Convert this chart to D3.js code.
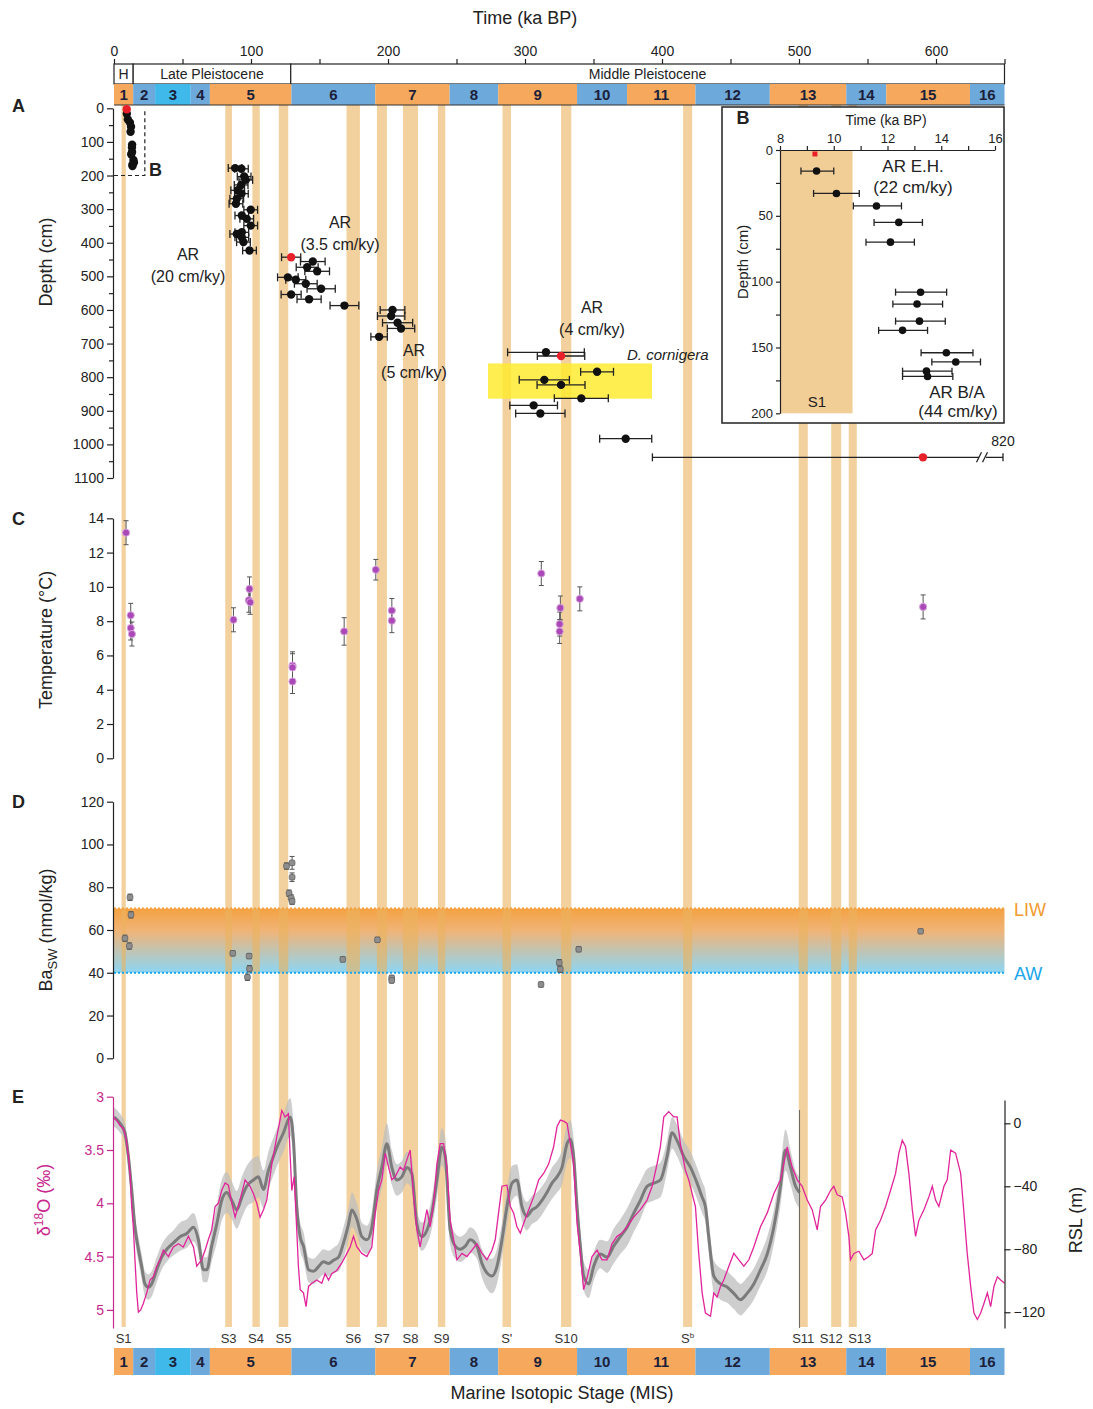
<!DOCTYPE html>
<html>
<head>
<meta charset="utf-8">
<script src="https://cdn.jsdelivr.net/npm/d3@7"></script>
<style>
  body { margin: 0; background: #fff; }
</style>
</head>
<body>
<div id="chart"></div>
<script>
// ---- data ----
// marine isotope stages [stage, start ka, end ka]
const misStages = [[1,0,14],[2,14,30],[3,30,56],[4,56,70],[5,70,129.5],[6,129.5,190.7],[7,190.7,245],
  [8,245,280.5],[9,280.5,338],[10,338,374.5],[11,374.5,424.4],[12,424.4,478.7],[13,478.7,534.5],
  [14,534.5,563.7],[15,563.7,624.8],[16,624.8,650]];
const epochs = [["H",0,14],["Late Pleistocene",14,129],["Middle Pleistocene",129,650]];
// sapropels [label, start ka, end ka]
const sapropels = [["S1",5.5,8.6],["S3",81.2,86.1],["S4",101,106.4],["S5",120.3,127.2],["S6",169.7,179.5],
  ["S7",191.9,199.2],["S8",210.9,221.9],["S9",236.4,241.8],["S'",283.6,289.8],["S10",326.3,333.8],
  ["Sb",415.4,422],["S11",499.8,506.4],["S12",523.5,530.8],["S13",536.3,542.2]];

// panel A / B : ages [ka, depth cm, err lo, err hi]
const redTop = [9.3, 3];
const holoceneAges = [[9.36,16,8.78,10.0],[10.1,33,9.25,10.95],[11.59,42.5,10.73,12.52],[12.42,55,11.5,13.3],
  [12.11,70,11.2,13.0],[13.23,108,12.3,14.2],[13.1,117,12.2,14.05],[13.19,130,12.3,14.15],[12.56,137,11.67,13.49],
  [14.19,154,13.25,15.18],[14.54,161,13.65,15.46],[13.45,168,12.56,14.4],[13.49,172,12.56,14.43]];
// [ka, depth, ± ka]
const mis5Ages = [[88.4,178,5],[93,180,5],[95,203,5],[96.2,213,5],[92.8,228,5],[90.3,244,5],[93,254,5],
  [89.6,269,5],[89,284,5],[99.8,302,5],[93.3,319,5],[96.9,329,5],[99.8,349,5],[93.3,369,5],[89.6,374,5],
  [93.3,384,5],[94.5,398,5],[98.9,423,5]];
const mis6Ages = [[145.1,456,9],[141,473,8],[148.3,485,9],[126.9,503,7.5],[132.7,510,7.3],[140,522,8.3],
  [151.2,537,10.3],[129.3,554,7.3],[142.4,568,8.8],[168.2,587,10.5]];
const mis6Red = [129.3,443,7];
const mis7Ages = [[203.3,600,9],[202.3,618,10],[207,638,11],[209.5,655,10],[193.5,680,6]];
const mis9Ages = [[315.3,726,28],[352.6,784,12],[314.1,808,18.3],[326.3,823,17.5],[341.1,863,19.7],
  [306.3,884,17.4],[311.2,908,18],[373.5,983,19]];
const mis9Red = [326.3,737,17.3];
const oldRed = [590.5,1038.5,393,820];
const corniger = [273,392.7,759,864];

// panel C : temperature [ka, °C, ±]
const temperature = [[8.8,13.16,0.7],[12.2,8.34,0.7],[12.2,7.6,0.7],[13.1,7.25,0.7],[87.2,8.08,0.7],
  [98.9,9.88,0.7],[98.4,9.22,0.7],[99.4,9.1,0.7],[130.3,5.41,0.8],[130.3,5.3,0.8],[130.3,4.48,0.7],
  [168,7.4,0.8],[191.1,11.0,0.6],[202.8,8.62,0.7],[202.8,8.03,0.7],[311.9,10.78,0.7],[325.8,8.77,0.7],
  [325.3,7.83,0.7],[325.3,7.4,0.7],[340,9.3,0.7],[590.6,8.83,0.7]];

// panel D : Ba_SW [ka, nmol/kg, ±]
const barium = [[8.0,56.1,1.5],[11.2,52.5,1.5],[11.7,75.3,1.5],[12.4,67.1,1.5],[86.7,49.1,1.2],[98.6,47.8,1.2],
  [98.9,41.9,1.5],[97.4,37.9,1.5],[125.9,89.9,1.5],[130,91.4,3],[130,84.7,2],[127.8,77.2,1.5],[129.3,75,1.5],
  [130,73.4,1.5],[167,46.3,1.2],[192.3,55.4,1.2],[202.7,37.6,1.2],[202.7,36.4,1.2],[311.7,34.5,1.2],
  [325,44.7,1.5],[325.8,41.6,1.5],[339.2,51,1.2],[588.8,59.4,1]];
const liw = 70, aw = 40;

// panel E : benthic d18O [ka, ‰]
const d18o = [[0,3.20],[1.9,3.22],[4.4,3.27],[6.8,3.30],[8.8,3.39],[10.5,3.56],[11.7,3.72],[12.9,4.03],
  [14.1,4.22],[15.3,4.53],[16.6,4.84],[17.8,5.02],[19.5,5.00],[21.4,4.94],[23.9,4.84],[26.3,4.72],[28.7,4.69],
  [31.2,4.59],[33.6,4.53],[36.0,4.44],[39.7,4.50],[43.3,4.41],[47.0,4.38],[50.6,4.41],[54.3,4.31],[58.0,4.41],
  [60.4,4.59],[64.0,4.53],[66.5,4.44],[68.9,4.34],[71.3,4.25],[73.8,4.03],[76.2,4.00],[78.6,3.88],[81.1,3.81],
  [83.5,3.83],[86.0,4.00],[88.4,4.13],[92.0,3.97],[95.7,3.78],[99.3,3.84],[101.8,3.91],[104.2,4.00],[106.6,4.13],
  [109.1,4.06],[111.5,3.97],[115.2,3.63],[118.8,3.38],[122.5,3.13],[124.9,3.19],[127.3,3.16],[128.6,3.56],
  [129.8,3.88],[131.5,3.75],[133.4,4.25],[134.6,4.59],[135.9,4.81],[138.3,4.84],[140.2,4.97],[142.0,4.78],
  [144.4,4.75],[148.0,4.72],[151.7,4.75],[154.1,4.66],[156.6,4.72],[159.0,4.66],[162.6,4.63],[166.3,4.56],
  [170.0,4.47],[172.4,4.41],[174.8,4.31],[177.3,4.41],[180.9,4.47],[184.6,4.50],[188.2,4.41],[190.7,4.09],
  [193.1,3.88],[195.5,3.78],[198.0,3.53],[200.4,3.66],[202.8,3.78],[205.3,3.75],[208.9,3.66],[211.3,3.69],
  [213.8,3.59],[216.2,3.50],[218.7,3.94],[221.1,4.25],[223.5,4.41],[226.0,4.22],[228.4,4.06],[230.8,4.22],
  [233.3,4.00],[235.7,3.63],[238.1,3.44],[240.6,3.44],[243.0,3.66],[245.4,4.16],[247.9,4.34],[250.3,4.53],
  [254.0,4.47],[257.6,4.50],[261.3,4.44],[264.9,4.38],[268.6,4.47],[272.2,4.53],[275.9,4.44],[278.3,4.34],
  [280.7,4.09],[283.2,3.84],[286.8,3.83],[289.3,4.03],[291.7,4.09],[294.1,4.22],[296.6,4.28],[299.0,4.19],
  [302.7,4.06],[306.3,3.94],[310.0,3.78],[313.6,3.72],[317.3,3.63],[320.9,3.47],[323.4,3.28],[325.8,3.22],
  [328.2,3.23],[330.7,3.25],[333.1,3.44],[335.5,3.63],[338.0,4.19],[340.4,4.47],[342.8,4.81],[345.3,4.70],
  [348.9,4.50],[352.6,4.44],[356.2,4.53],[359.9,4.53],[363.5,4.38],[367.2,4.31],[370.8,4.28],[374.5,4.22],
  [379.4,4.13],[384.2,4.06],[389.1,3.97],[392.8,3.84],[396.4,3.63],[398.8,3.47],[401.3,3.19],[404.9,3.14],
  [408.6,3.19],[411.0,3.19],[413.4,3.44],[417.1,3.69],[419.5,3.78],[422.0,3.91],[424.4,4.03],[426.8,4.47],
  [429.3,4.84],[431.7,5.03],[435.4,5.06],[437.8,4.84],[440.2,4.88],[442.7,4.78],[445.1,4.72],[448.8,4.59],
  [452.4,4.47],[456.1,4.53],[459.7,4.59],[463.4,4.53],[467.0,4.41],[471.9,4.22],[476.8,4.09],[481.6,3.91],
  [486.5,3.78],[491.4,3.47],[495.0,3.66],[498.7,3.78],[502.3,3.84],[506.0,3.97],[509.6,4.06],[513.3,4.25],
  [515.7,4.03],[519.4,3.97],[523.0,3.88],[525.4,3.84],[527.9,3.92],[531.5,3.94],[534.0,4.09],[536.4,4.31],
  [537.6,4.53],[540.1,4.47],[543.7,4.45],[547.4,4.53],[551.0,4.50],[553.5,4.47],[555.9,4.25],[559.5,4.16],
  [563.2,4.03],[566.8,3.88],[570.5,3.72],[572.9,3.53],[575.4,3.41],[577.8,3.47],[580.2,3.72],[582.7,4.06],
  [585.1,4.31],[587.5,4.16],[591.2,4.06],[594.8,3.94],[597.3,3.84],[599.7,3.97],[602.1,4.03],[605.8,3.84],
  [608.2,3.78],[610.7,3.50],[614.3,3.53],[618.0,3.72],[620.4,4.09],[622.8,4.47],[625.3,4.78],[627.7,5.03],
  [630.2,5.09],[632.6,5.03],[635.0,4.94],[637.5,4.84],[639.9,4.97],[642.3,4.78],[644.8,4.69],[647.2,4.72],
  [650.0,4.75]];

// panel E : relative sea level [ka, m, ± m]
const rsl = [[0,4,6],[4.4,0,6],[8.0,-6,6],[10.5,-21,7],[12.9,-42,8],[15.3,-66,8],[17.8,-80,8],[20.2,-91,8],
  [22.6,-102,8],[25.1,-104,8],[27.5,-102,8],[31.2,-93,8],[34.8,-85,8],[38.5,-80,8],[43.3,-76,8],[48.2,-72,9],
  [53.1,-70,9],[58.0,-66,9],[61.6,-74,8],[65.3,-93,8],[67.7,-93,8],[71.3,-78,10],[75.0,-64,12],[78.6,-49,13],
  [82.3,-44,13],[86.0,-49,12],[89.6,-55,12],[93.3,-47,13],[96.9,-40,13],[101.8,-36,14],[105.4,-34,13],
  [109.1,-42,12],[112.7,-30,12],[116.4,-21,12],[120.0,-13,12],[123.7,-6,12],[128.6,4,12],[131.0,-11,11],
  [133.4,-53,10],[135.9,-72,9],[138.3,-78,9],[142.0,-93,8],[145.6,-94,8],[149.3,-91,8],[152.9,-88,8],
  [156.6,-89,8],[160.2,-87,8],[163.9,-85,9],[167.5,-76,10],[171.2,-64,10],[173.6,-55,11],[177.3,-61,10],
  [180.9,-72,9],[184.6,-74,9],[188.2,-66,10],[191.9,-42,12],[195.5,-28,13],[199.2,-13,13],[202.8,-28,11],
  [206.5,-36,10],[210.1,-34,10],[213.8,-28,10],[217.4,-32,10],[221.1,-64,9],[224.7,-72,9],[228.4,-68,9],
  [232.0,-57,10],[235.7,-36,11],[239.3,-15,12],[241.8,-21,11],[245.4,-68,9],[249.1,-78,8],[252.7,-80,8],
  [256.4,-78,8],[260.0,-74,8],[264.9,-78,8],[268.6,-89,9],[272.2,-95,10],[275.9,-97,11],[279.5,-91,11],
  [283.2,-74,11],[286.8,-53,12],[290.5,-38,11],[294.1,-36,10],[297.8,-53,9],[301.4,-59,9],[305.1,-55,9],
  [308.7,-53,9],[312.4,-49,9],[316.0,-44,9],[319.7,-38,10],[323.4,-34,10],[327.0,-28,11],[330.7,-13,12],
  [333.1,-10,12],[335.5,-21,11],[338.0,-53,10],[340.4,-78,9],[342.8,-97,9],[346.5,-102,9],[350.1,-91,9],
  [355.0,-83,9],[359.9,-85,10],[364.7,-78,11],[369.6,-72,11],[374.5,-66,12],[379.4,-57,12],[384.2,-49,12],
  [389.1,-40,11],[394.0,-38,11],[398.8,-36,11],[403.7,-21,10],[407.4,-6,10],[411.0,-11,10],[415.9,-21,10],
  [420.8,-28,10],[425.6,-38,10],[429.3,-47,10],[431.7,-53,10],[434.1,-72,10],[437.8,-97,10],[442.7,-102,10],
  [447.5,-104,10],[452.4,-108,10],[457.3,-112,10],[462.1,-108,10],[467.0,-102,10],[471.9,-93,10],
  [476.8,-83,11],[481.6,-66,11],[486.5,-40,12],[490.1,-17,13],[493.8,-28,11],[497.5,-40,10],[500.4,-44,10]];

// ---- layout ----
const W = 1093, H = 1409;
const FONT = "'Liberation Sans', Arial, Helvetica, sans-serif";
const orange = "#F6A95C", blue = "#6EA9DC", cyan = "#3FB8EA";
const misColor = s => s === 3 ? cyan : (s % 2 ? orange : blue);
// small horizontal nudges (px) so the crowded sapropel names do not collide
const labelNudge = { S12: -5, S13: 7 };

const x = d3.scaleLinear().domain([0, 650]).range([114, 1004.5]);
const yA = d3.scaleLinear().domain([0, 1100]).range([108.3, 478]);
const yC = d3.scaleLinear().domain([0, 14]).range([758.3, 518.3]);
const yD = d3.scaleLinear().domain([0, 120]).range([1058.3, 801.7]);
const yE = d3.scaleLinear().domain([3, 5.17]).range([1096.7, 1328]);
const yR = d3.scaleLinear().domain([14.8, -130]).range([1100, 1328]);
const xB = d3.scaleLinear().domain([8, 16]).range([780, 995]);
const yB = d3.scaleLinear().domain([0, 200]).range([150, 413.3]);

const svg = d3.select("#chart").append("svg")
  .attr("width", W).attr("height", H)
  .attr("font-family", FONT);

const defs = svg.append("defs");
const grad = defs.append("linearGradient").attr("id", "water")
  .attr("x1", 0).attr("y1", 0).attr("x2", 0).attr("y2", 1);
grad.append("stop").attr("offset", "0%").attr("stop-color", "#F4A242");
grad.append("stop").attr("offset", "35%").attr("stop-color", "#F0B478");
grad.append("stop").attr("offset", "100%").attr("stop-color", "#8CD6F4");

const styleAxis = (g, color, size) => {
  g.selectAll("path, line").attr("stroke", color).attr("stroke-width", 1.2);
  g.selectAll("text").attr("fill", color).attr("font-size", size || 14).attr("font-family", FONT);
};

// water mass band (panel D), under sapropels
svg.append("rect")
  .attr("x", x(0)).attr("width", x(650) - x(0))
  .attr("y", yD(liw)).attr("height", yD(aw) - yD(liw))
  .attr("fill", "url(#water)");

// sapropel bands through the whole figure
svg.append("g").selectAll("rect").data(sapropels).enter().append("rect")
  .attr("x", d => x(d[1])).attr("width", d => x(d[2]) - x(d[1]))
  .attr("y", 105).attr("height", 1327 - 105)
  .attr("fill", "#EBB35E").attr("opacity", 0.6);

svg.append("line").attr("x1", x(0)).attr("x2", x(650)).attr("y1", yD(liw)).attr("y2", yD(liw))
  .attr("stroke", "#F2A040").attr("stroke-width", 2).attr("stroke-dasharray", "2,2");
svg.append("line").attr("x1", x(0)).attr("x2", x(650)).attr("y1", yD(aw)).attr("y2", yD(aw))
  .attr("stroke", "#1AA6EA").attr("stroke-width", 2).attr("stroke-dasharray", "2,2");
svg.append("text").attr("x", 1014).attr("y", yD(liw) + 7).text("LIW")
  .attr("fill", "#F29A2E").attr("font-size", 18);
svg.append("text").attr("x", 1014).attr("y", yD(aw) + 7).text("AW")
  .attr("fill", "#1AA6EA").attr("font-size", 18);

// ---- top: time axis, epochs, MIS ----
svg.append("text").attr("x", 525).attr("y", 24).attr("text-anchor", "middle")
  .attr("font-size", 18).attr("fill", "#222").text("Time (ka BP)");

const topAxis = svg.append("g").attr("transform", "translate(0,64)")
  .call(d3.axisTop(x).tickValues(d3.range(0, 651, 50))
    .tickFormat(d => d % 100 ? "" : d).tickSize(5).tickSizeOuter(0));
styleAxis(topAxis, "#222");

svg.append("g").selectAll("rect").data(epochs).enter().append("rect")
  .attr("x", d => x(d[1])).attr("width", d => x(d[2]) - x(d[1]))
  .attr("y", 64).attr("height", 20)
  .attr("fill", "#fff").attr("stroke", "#222").attr("stroke-width", 1.2);
svg.append("g").selectAll("text").data(epochs).enter().append("text")
  .attr("x", d => (x(d[1]) + x(d[2])) / 2).attr("y", 79)
  .attr("text-anchor", "middle").attr("font-size", 14).attr("fill", "#222")
  .text(d => d[0]);

const misBar = (y0, h) => {
  const g = svg.append("g");
  g.selectAll("rect").data(misStages).enter().append("rect")
    .attr("x", d => x(d[1])).attr("width", d => x(d[2]) - x(d[1]))
    .attr("y", y0).attr("height", h).attr("fill", d => misColor(d[0]));
  g.selectAll("text").data(misStages).enter().append("text")
    .attr("x", d => (x(d[1]) + x(d[2])) / 2).attr("y", y0 + h / 2 + 5)
    .attr("text-anchor", "middle").attr("font-size", 15).attr("font-weight", "bold")
    .attr("fill", "#1c1f3a").text(d => d[0]);
};
misBar(84, 21);
misBar(1348, 27);
svg.append("line").attr("x1", x(0)).attr("x2", x(650)).attr("y1", 105).attr("y2", 105)
  .attr("stroke", "#333").attr("stroke-width", 1);

// ---- panel letters ----
[["A", 112], ["C", 525], ["D", 808], ["E", 1103]].forEach(p => {
  svg.append("text").attr("x", 12).attr("y", p[1]).text(p[0])
    .attr("font-size", 18).attr("font-weight", "bold").attr("fill", "#222");
});

const yTitle = (cx, cy, color) => svg.append("text")
  .attr("transform", `translate(${cx},${cy}) rotate(-90)`)
  .attr("text-anchor", "middle").attr("font-size", 18).attr("fill", color || "#222");

// ---- panel A ----
const axA = svg.append("g").attr("transform", `translate(${x(0) - 1},0)`)
  .call(d3.axisLeft(yA).tickValues(d3.range(0, 1101, 50))
    .tickFormat(d => d % 100 ? "" : d).tickSize(6).tickSizeOuter(0));
styleAxis(axA, "#222");
axA.selectAll(".tick").filter(d => d % 100).select("line").attr("x2", -4);
yTitle(52, 262).text("Depth (cm)");

const A = svg.append("g");
A.append("path")
  .attr("d", `M${x(0)},${yA(200)}H${x(22.5)}V${yA(0)}`)
  .attr("fill", "none").attr("stroke", "#222").attr("stroke-width", 1.2).attr("stroke-dasharray", "4,3");
A.append("text").attr("x", 149).attr("y", 176).text("B")
  .attr("font-size", 18).attr("font-weight", "bold").attr("fill", "#222");

A.append("rect")
  .attr("x", x(corniger[0])).attr("width", x(corniger[1]) - x(corniger[0]))
  .attr("y", yA(corniger[2])).attr("height", yA(corniger[3]) - yA(corniger[2]))
  .attr("fill", "#FFEA2A").attr("opacity", 0.82);

const errH = (g, xs, y, lo, hi, color, cap) => {
  g.append("line").attr("x1", xs(lo)).attr("x2", xs(hi)).attr("y1", y).attr("y2", y)
    .attr("stroke", color).attr("stroke-width", 1.3);
  [lo, hi].forEach(v => g.append("line").attr("x1", xs(v)).attr("x2", xs(v))
    .attr("y1", y - cap).attr("y2", y + cap).attr("stroke", color).attr("stroke-width", 1.3));
};

const symAges = mis5Ages.concat(mis6Ages, mis7Ages, mis9Ages);
symAges.forEach(d => errH(A, x, yA(d[1]), d[0] - d[2], d[0] + d[2], "#222", 4));
[mis6Red, mis9Red].forEach(d => errH(A, x, yA(d[1]), d[0] - d[2], d[0] + d[2], "#222", 4));
A.selectAll("circle.hol").data(holoceneAges).enter().append("circle")
  .attr("cx", d => x(d[0])).attr("cy", d => yA(d[1])).attr("r", 4.2).attr("fill", "#111");
A.selectAll("circle.age").data(symAges).enter().append("circle")
  .attr("cx", d => x(d[0])).attr("cy", d => yA(d[1])).attr("r", 4.2).attr("fill", "#111");
A.selectAll("circle.red").data([redTop, mis6Red, mis9Red]).enter().append("circle")
  .attr("cx", d => x(d[0])).attr("cy", d => yA(d[1])).attr("r", 4.2).attr("fill", "#E8202A");

// oldest age with broken error bar
const yOld = yA(oldRed[1]);
const xEnd = 1003;
A.append("line").attr("x1", x(oldRed[2])).attr("x2", xEnd).attr("y1", yOld).attr("y2", yOld)
  .attr("stroke", "#222").attr("stroke-width", 1.3);
[x(oldRed[2]), xEnd].forEach(v => A.append("line").attr("x1", v).attr("x2", v)
  .attr("y1", yOld - 4).attr("y2", yOld + 4).attr("stroke", "#222").attr("stroke-width", 1.3));
A.append("rect").attr("x", 979).attr("y", yOld - 3).attr("width", 7).attr("height", 6).attr("fill", "#fff");
[979, 985].forEach(v => A.append("line").attr("x1", v - 2.5).attr("x2", v + 2.5)
  .attr("y1", yOld + 5).attr("y2", yOld - 5).attr("stroke", "#222").attr("stroke-width", 1.3));
A.append("text").attr("x", xEnd).attr("y", 446).attr("text-anchor", "middle")
  .attr("font-size", 14).attr("fill", "#222").text(oldRed[3]);
A.append("circle").attr("cx", x(oldRed[0])).attr("cy", yOld).attr("r", 4.2).attr("fill", "#E8202A");

const arLabel = (cx, cy, rate) => {
  A.append("text").attr("x", cx).attr("y", cy).attr("text-anchor", "middle")
    .attr("font-size", 16).attr("fill", "#222").text("AR");
  A.append("text").attr("x", cx).attr("y", cy + 22).attr("text-anchor", "middle")
    .attr("font-size", 16).attr("fill", "#222").text(`(${rate} cm/ky)`);
};
arLabel(188, 260, 20);
arLabel(340, 228, 3.5);
arLabel(414, 356, 5);
arLabel(592, 313, 4);
A.append("text").attr("x", 627).attr("y", 360).attr("font-size", 15)
  .attr("font-style", "italic").attr("fill", "#222").text("D. cornigera");

// ---- inset B ----
const B = svg.append("g");
B.append("rect").attr("x", 722).attr("y", 107).attr("width", 282).attr("height", 316)
  .attr("fill", "#fff").attr("stroke", "#222").attr("stroke-width", 1.5);
B.append("rect").attr("x", xB(8)).attr("width", xB(10.7) - xB(8))
  .attr("y", yB(0)).attr("height", yB(200) - yB(0)).attr("fill", "#F2CE97");
const axBx = B.append("g").attr("transform", `translate(0,${yB(0)})`)
  .call(d3.axisTop(xB).tickValues(d3.range(8, 17, 1))
    .tickFormat(d => d % 2 ? "" : d).tickSize(4).tickSizeOuter(0));
styleAxis(axBx, "#222", 13);
const axBy = B.append("g").attr("transform", `translate(${xB(8)},0)`)
  .call(d3.axisLeft(yB).tickValues(d3.range(0, 201, 25))
    .tickFormat(d => d % 50 ? "" : d).tickSize(4).tickSizeOuter(0));
styleAxis(axBy, "#222", 13);
B.append("text").attr("x", 743).attr("y", 124).attr("text-anchor", "middle")
  .attr("font-size", 18).attr("font-weight", "bold").attr("fill", "#222").text("B");
B.append("text").attr("x", 886).attr("y", 125).attr("text-anchor", "middle")
  .attr("font-size", 14).attr("fill", "#222").text("Time (ka BP)");
B.append("text").attr("transform", `translate(748,${yB(85)}) rotate(-90)`)
  .attr("text-anchor", "middle").attr("font-size", 15).attr("fill", "#222").text("Depth (cm)");
holoceneAges.forEach(d => errH(B, xB, yB(d[1]), d[2], d[3], "#222", 3.5));
B.selectAll("circle").data(holoceneAges).enter().append("circle")
  .attr("cx", d => xB(d[0])).attr("cy", d => yB(d[1])).attr("r", 3.8).attr("fill", "#111");
B.append("rect").attr("x", xB(redTop[0]) - 2.5).attr("y", yB(redTop[1]) - 2.5)
  .attr("width", 5).attr("height", 5).attr("fill", "#E8202A");
B.append("text").attr("x", 913).attr("y", 172).attr("text-anchor", "middle")
  .attr("font-size", 17).attr("fill", "#222").text("AR E.H.");
B.append("text").attr("x", 913).attr("y", 193).attr("text-anchor", "middle")
  .attr("font-size", 17).attr("fill", "#222").text("(22 cm/ky)");
B.append("text").attr("x", 957).attr("y", 398).attr("text-anchor", "middle")
  .attr("font-size", 17).attr("fill", "#222").text("AR B/A");
B.append("text").attr("x", 958).attr("y", 417).attr("text-anchor", "middle")
  .attr("font-size", 17).attr("fill", "#222").text("(44 cm/ky)");
B.append("text").attr("x", 817).attr("y", 407).attr("text-anchor", "middle")
  .attr("font-size", 15).attr("fill", "#222").text("S1");

// ---- panel C ----
const axC = svg.append("g").attr("transform", `translate(${x(0) - 1},0)`)
  .call(d3.axisLeft(yC).tickValues(d3.range(0, 15, 2)).tickSize(6).tickSizeOuter(0));
styleAxis(axC, "#222");
yTitle(52, 640).text("Temperature (°C)");
const C = svg.append("g");
temperature.forEach(d => {
  const cx = x(d[0]);
  C.append("line").attr("x1", cx).attr("x2", cx).attr("y1", yC(d[1] - d[2])).attr("y2", yC(d[1] + d[2]))
    .attr("stroke", "#555").attr("stroke-width", 1);
  [d[1] - d[2], d[1] + d[2]].forEach(v => C.append("line").attr("x1", cx - 2.5).attr("x2", cx + 2.5)
    .attr("y1", yC(v)).attr("y2", yC(v)).attr("stroke", "#555").attr("stroke-width", 1));
});
C.selectAll("circle").data(temperature).enter().append("circle")
  .attr("cx", d => x(d[0])).attr("cy", d => yC(d[1])).attr("r", 3.6)
  .attr("fill", "#A948B6").attr("stroke", "#D9A6DE").attr("stroke-width", 1);

// ---- panel D ----
const axD = svg.append("g").attr("transform", `translate(${x(0) - 1},0)`)
  .call(d3.axisLeft(yD).tickValues(d3.range(0, 121, 20)).tickSize(6).tickSizeOuter(0));
styleAxis(axD, "#222");
const tD = yTitle(52, 930);
tD.append("tspan").text("Ba");
tD.append("tspan").attr("dy", 5).attr("font-size", 13).text("SW");
tD.append("tspan").attr("dy", -5).text(" (nmol/kg)");
const D = svg.append("g");
barium.forEach(d => {
  const cx = x(d[0]);
  D.append("line").attr("x1", cx).attr("x2", cx).attr("y1", yD(d[1] - d[2])).attr("y2", yD(d[1] + d[2]))
    .attr("stroke", "#555").attr("stroke-width", 1);
  [d[1] - d[2], d[1] + d[2]].forEach(v => D.append("line").attr("x1", cx - 2.5).attr("x2", cx + 2.5)
    .attr("y1", yD(v)).attr("y2", yD(v)).attr("stroke", "#555").attr("stroke-width", 1));
});
D.selectAll("rect").data(barium).enter().append("rect")
  .attr("x", d => x(d[0]) - 2.8).attr("y", d => yD(d[1]) - 2.8).attr("width", 5.6).attr("height", 5.6)
  .attr("rx", 1.5).attr("fill", "#8E8E8E").attr("stroke", "#5E5E5E").attr("stroke-width", 0.8);

// ---- panel E ----
const E = svg.append("g");
E.append("path").datum(rsl)
  .attr("d", d3.area().x(d => x(d[0])).y0(d => yR(d[1] - d[2])).y1(d => yR(d[1] + d[2])).curve(d3.curveMonotoneX))
  .attr("fill", "#BEBEBE").attr("opacity", 0.75);
E.append("path").datum(rsl)
  .attr("d", d3.line().x(d => x(d[0])).y(d => yR(d[1])).curve(d3.curveMonotoneX))
  .attr("fill", "none").attr("stroke", "#7B7B7B").attr("stroke-width", 3);
E.append("line").attr("x1", x(rsl[rsl.length - 1][0])).attr("x2", x(rsl[rsl.length - 1][0]))
  .attr("y1", 1110).attr("y2", 1328).attr("stroke", "#666").attr("stroke-width", 1);
E.append("path").datum(d18o)
  .attr("d", d3.line().x(d => x(d[0])).y(d => yE(d[1])))
  .attr("fill", "none").attr("stroke", "#E1249A").attr("stroke-width", 1.3);

const magenta = "#C8288E";
const axE = svg.append("g").attr("transform", `translate(${x(0) - 1},0)`)
  .call(d3.axisLeft(yE).tickValues([3, 3.5, 4, 4.5, 5]).tickFormat(d3.format("~g"))
    .tickSize(6).tickSizeOuter(0));
styleAxis(axE, magenta);
const tE = yTitle(50, 1200, magenta);
tE.append("tspan").text("δ");
tE.append("tspan").attr("dy", -7).attr("font-size", 12).text("18");
tE.append("tspan").attr("dy", 7).text("O (‰)");

const axR = svg.append("g").attr("transform", `translate(${x(650)},0)`)
  .call(d3.axisRight(yR).tickValues([0, -40, -80, -120]).tickSize(6).tickSizeOuter(0));
styleAxis(axR, "#222");
yTitle(1082, 1220).text("RSL (m)");

// sapropel names
const sLab = svg.append("g").attr("font-size", 13).attr("fill", "#333").attr("text-anchor", "middle");
sapropels.forEach(s => {
  const t = sLab.append("text")
    .attr("x", (x(s[1]) + x(s[2])) / 2 + (labelNudge[s[0]] || 0)).attr("y", 1343);
  if (s[0] === "Sb") {
    t.append("tspan").text("S");
    t.append("tspan").attr("dy", -5).attr("font-size", 8).text("b");
  } else {
    t.text(s[0]);
  }
});

svg.append("text").attr("x", 562).attr("y", 1399).attr("text-anchor", "middle")
  .attr("font-size", 18).attr("fill", "#222").text("Marine Isotopic Stage (MIS)");
</script>
</body>
</html>
